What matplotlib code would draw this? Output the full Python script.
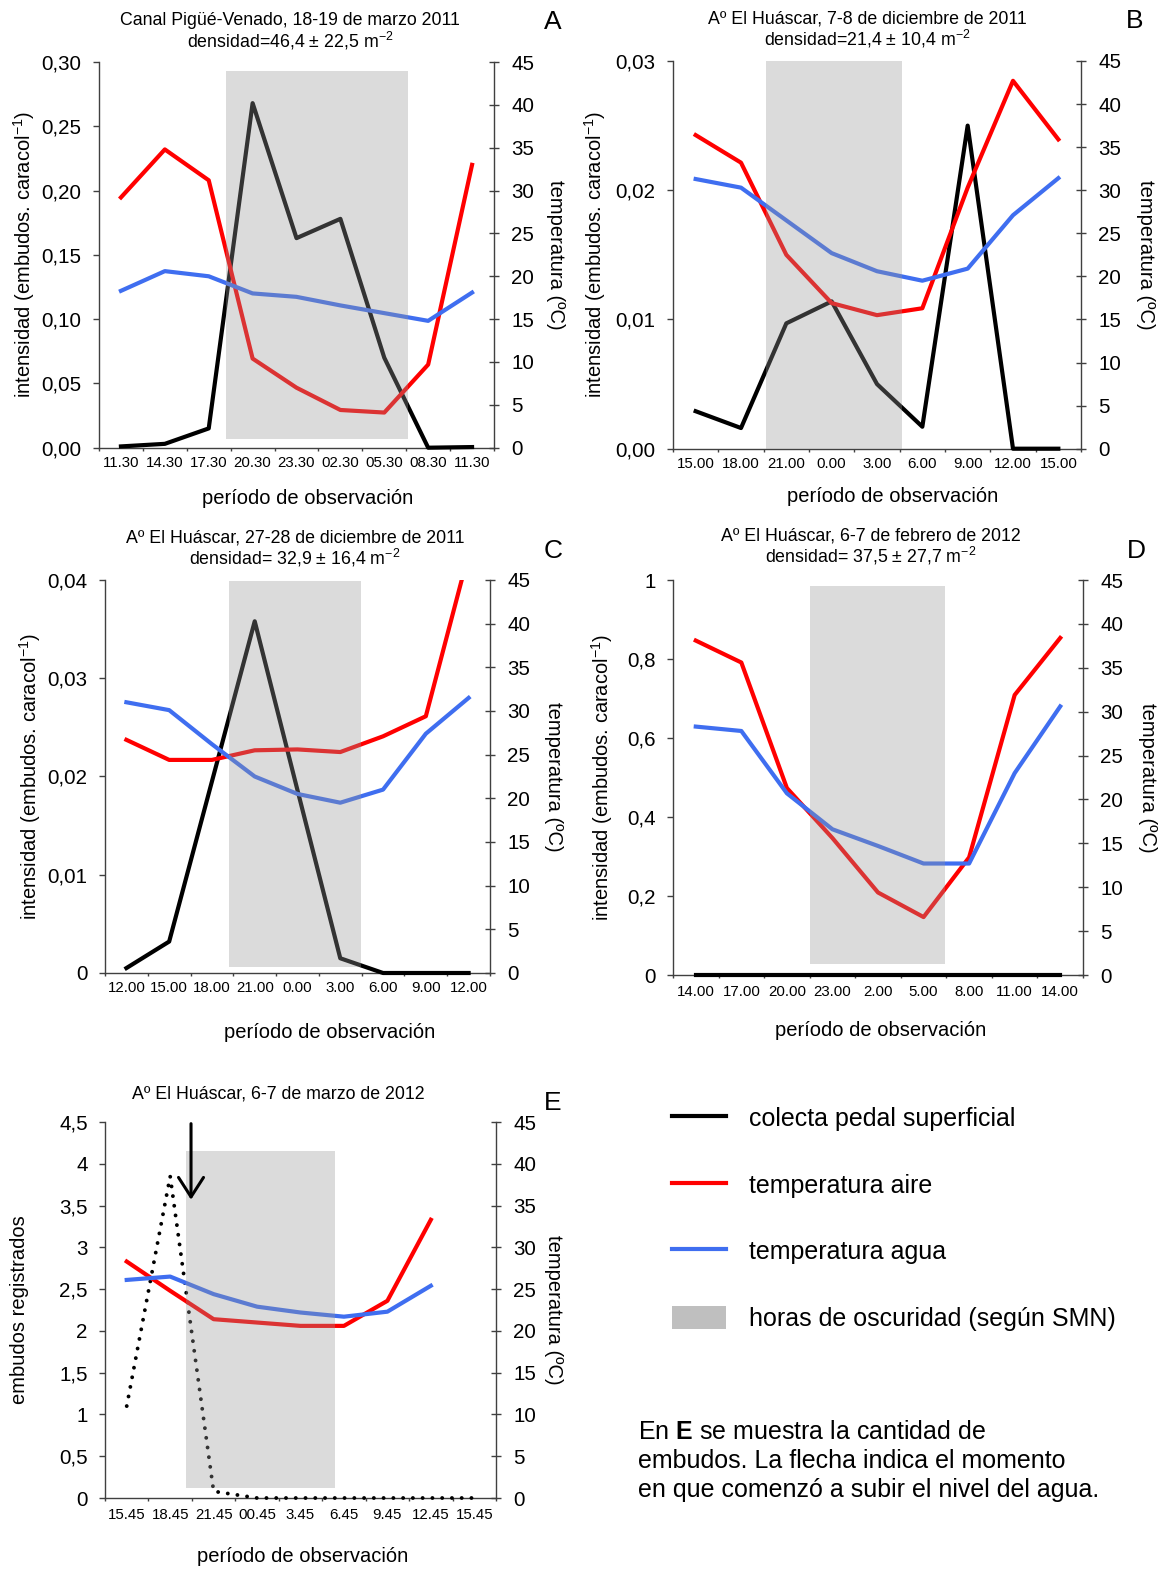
import numpy as np
import matplotlib

matplotlib.use("Agg")
import matplotlib.pyplot as plt
from matplotlib.lines import Line2D
from matplotlib.patches import Patch

plt.rcParams["font.family"] = ["Liberation Sans", "DejaVu Sans"]
plt.rcParams["mathtext.fontset"] = "custom"
plt.rcParams["mathtext.rm"] = "Liberation Sans"
plt.rcParams["mathtext.bf"] = "Liberation Sans:bold"
plt.rcParams["mathtext.it"] = "Liberation Sans:italic"

FIG_W, FIG_H = 1166, 1573

RED = "#FF0000"
BLUE = "#3F6EF0"
BLACK = "#000000"
SHADE = "#979797"
SHADE_ALPHA = 0.34
AXIS_COLOR = "#404040"

TEMP_TICKS = [0, 5, 10, 15, 20, 25, 30, 35, 40, 45]
TEMP_LABEL = "temperatura (ºC)"
INT_LABEL = "intensidad (embudos. caracol$^{-1}$)"
X_LABEL = "período de observación"

# A: Canal Pigüé-Venado, marzo 2011
A_TIMES = ["11.30", "14.30", "17.30", "20.30", "23.30", "02.30", "05.30", "08.30", "11.30"]
A_PEDAL = [0.001, 0.003, 0.015, 0.268, 0.163, 0.178, 0.070, 0.0, 0.0005]
A_AIR = [29.2, 34.8, 31.2, 10.4, 7.0, 4.4, 4.1, 9.7, 33.0]
A_WATER = [18.3, 20.6, 20.0, 18.0, 17.6, 16.6, 15.7, 14.8, 18.1]
A_YTICKS = [0, 0.05, 0.10, 0.15, 0.20, 0.25, 0.30]
A_YTICKLABELS = ["0,00", "0,05", "0,10", "0,15", "0,20", "0,25", "0,30"]

# B: Aº El Huáscar, 7-8 diciembre 2011
B_TIMES = ["15.00", "18.00", "21.00", "0.00", "3.00", "6.00", "9.00", "12.00", "15.00"]
B_PEDAL = [0.0029, 0.0016, 0.0097, 0.0114, 0.0050, 0.0017, 0.0250, 0.0, 0.0]
B_AIR = [36.4, 33.2, 22.5, 16.9, 15.5, 16.3, 30.3, 42.7, 35.9]
B_WATER = [31.3, 30.3, 26.5, 22.7, 20.6, 19.5, 20.9, 27.1, 31.4]
B_YTICKS = [0, 0.01, 0.02, 0.03]
B_YTICKLABELS = ["0,00", "0,01", "0,02", "0,03"]

# C: Aº El Huáscar, 27-28 diciembre 2011
C_TIMES = ["12.00", "15.00", "18.00", "21.00", "0.00", "3.00", "6.00", "9.00", "12.00"]
C_PEDAL = [0.0005, 0.0032, 0.0195, 0.0358, 0.0186, 0.0015, 0.0, 0.0, 0.0]
C_AIR = [26.7, 24.4, 24.4, 25.5, 25.6, 25.3, 27.1, 29.4, 48.0]
C_WATER = [31.0, 30.1, 26.2, 22.5, 20.5, 19.5, 21.0, 27.4, 31.5]
C_YTICKS = [0, 0.01, 0.02, 0.03, 0.04]
C_YTICKLABELS = ["0", "0,01", "0,02", "0,03", "0,04"]

# D: Aº El Huáscar, 6-7 febrero 2012
D_TIMES = ["14.00", "17.00", "20.00", "23.00", "2.00", "5.00", "8.00", "11.00", "14.00"]
D_PEDAL = [0, 0, 0, 0, 0, 0, 0, 0, 0]
D_AIR = [38.1, 35.6, 21.3, 15.6, 9.4, 6.6, 13.4, 31.9, 38.4]
D_WATER = [28.3, 27.8, 20.7, 16.6, 14.7, 12.7, 12.7, 23.0, 30.6]
D_YTICKS = [0, 0.2, 0.4, 0.6, 0.8, 1.0]
D_YTICKLABELS = ["0", "0,2", "0,4", "0,6", "0,8", "1"]

# E: Aº El Huáscar, 6-7 marzo 2012 (embudos registrados)
E_TIMES = ["15.45", "18.45", "21.45", "00.45", "3.45", "6.45", "9.45", "12.45", "15.45"]
E_FUNNELS = [1.1, 3.85, 0.08, 0.0, 0.0, 0.0, 0.0, 0.0, 0.0]
E_AIR = [28.3, 24.8, 21.4, 21.0, 20.6, 20.6, 23.6, 33.3]
E_WATER = [26.1, 26.5, 24.4, 22.9, 22.2, 21.7, 22.3, 25.4]
E_YTICKS = [0, 0.5, 1, 1.5, 2, 2.5, 3, 3.5, 4, 4.5]
E_YTICKLABELS = ["0", "0,5", "1", "1,5", "2", "2,5", "3", "3,5", "4", "4,5"]
E_ARROW_X = 1.48
E_ARROW_FROM = 4.48
E_ARROW_TO = 3.57

LEGEND_LABELS = [
    "colecta pedal superficial",
    "temperatura aire",
    "temperatura agua",
    "horas de oscuridad (según SMN)",
]
NOTE_TEXT = (
    "En $\\mathbf{E}$ se muestra la cantidad de\n"
    "embudos. La flecha indica el momento\n"
    "en que comenzó a subir el nivel del agua."
)

PANELS = [
    {
        "letter": "A",
        "title": "Canal Pigüé-Venado, 18-19 de marzo 2011\ndensidad=46,4 ± 22,5 m$^{-2}$",
        "times": A_TIMES, "pedal": A_PEDAL, "air": A_AIR, "water": A_WATER,
        "yticks": A_YTICKS, "yticklabels": A_YTICKLABELS, "ylabel": INT_LABEL,
        "box": (99, 62, 494, 447.7), "shade": (2.39, 6.53, 0.0225, 0.976),
        "title_xy": (290, 32), "letter_xy": (553, 22),
        "ylabel_x": 24, "ylabel2_x": 555, "xlabel_xy": (308, 499), "xpad": 6.0,
    },
    {
        "letter": "B",
        "title": "Aº El Huáscar, 7-8 de diciembre de 2011\ndensidad=21,4 ± 10,4 m$^{-2}$",
        "times": B_TIMES, "pedal": B_PEDAL, "air": B_AIR, "water": B_WATER,
        "yticks": B_YTICKS, "yticklabels": B_YTICKLABELS, "ylabel": INT_LABEL,
        "box": (673, 61, 1081, 448.7), "shade": (1.55, 4.55, 0.0, 1.0),
        "title_xy": (867, 30), "letter_xy": (1135, 21),
        "ylabel_x": 595, "ylabel2_x": 1146, "xlabel_xy": (893, 496), "xpad": 6.0,
    },
    {
        "letter": "C",
        "title": "Aº El Huáscar, 27-28 de diciembre de 2011\ndensidad= 32,9 ± 16,4 m$^{-2}$",
        "times": C_TIMES, "pedal": C_PEDAL, "air": C_AIR, "water": C_WATER,
        "yticks": C_YTICKS, "yticklabels": C_YTICKLABELS, "ylabel": INT_LABEL,
        "box": (105, 580, 490, 973), "shade": (2.39, 5.48, 0.0155, 0.9965),
        "title_xy": (295, 549), "letter_xy": (553, 551),
        "ylabel_x": 30, "ylabel2_x": 553, "xlabel_xy": (330, 1033), "xpad": 6.0,
    },
    {
        "letter": "D",
        "title": "Aº El Huáscar, 6-7 de febrero de 2012\ndensidad= 37,5 ± 27,7 m$^{-2}$",
        "times": D_TIMES, "pedal": D_PEDAL, "air": D_AIR, "water": D_WATER,
        "yticks": D_YTICKS, "yticklabels": D_YTICKLABELS, "ylabel": INT_LABEL,
        "box": (673, 580, 1083, 975), "shade": (2.50, 5.47, 0.027, 0.984),
        "title_xy": (871, 547), "letter_xy": (1136, 551),
        "ylabel_x": 602, "ylabel2_x": 1147, "xlabel_xy": (881, 1031), "xpad": 7.0,
    },
    {
        "letter": "E",
        "title": "Aº El Huáscar, 6-7 de marzo de 2012",
        "times": E_TIMES, "pedal": E_FUNNELS, "air": E_AIR, "water": E_WATER,
        "yticks": E_YTICKS, "yticklabels": E_YTICKLABELS, "ylabel": "embudos registrados",
        "box": (105, 1122, 496, 1498), "shade": (1.37, 4.79, 0.026, 0.924),
        "title_xy": (278, 1094), "letter_xy": (553, 1103),
        "ylabel_x": 20, "ylabel2_x": 553, "xlabel_xy": (303, 1556), "xpad": 7.5,
        "dotted": True,
    },
]


def fig_xy(x_px, y_px):
    return x_px / FIG_W, 1 - y_px / FIG_H


def draw_panel(fig, panel):
    left, top, right, bottom = panel["box"]
    x0, y0 = fig_xy(left, bottom)
    ax = fig.add_axes([x0, y0, (right - left) / FIG_W, (bottom - top) / FIG_H])
    ax2 = ax.twinx()

    n = len(panel["times"])
    x = np.arange(n)
    pedal = panel["pedal"]
    if panel.get("dotted"):
        ax.plot(x[:len(pedal)], pedal, color=BLACK, lw=2.8, ls=(0, (0.01, 2.5)),
                dash_capstyle="round", clip_on=False, zorder=3)
    else:
        ax.plot(x[:len(pedal)], pedal, color=BLACK, lw=3, clip_on=False, zorder=3)
    ax2.plot(x[:len(panel["air"])], panel["air"], color=RED, lw=3, zorder=2)
    ax2.plot(x[:len(panel["water"])], panel["water"], color=BLUE, lw=3, zorder=2)

    s0, s1, sy0, sy1 = panel["shade"]
    ax2.axvspan(s0, s1, ymin=sy0, ymax=sy1, color=SHADE, alpha=SHADE_ALPHA, lw=0, zorder=5)

    ax.set_xlim(-0.5, n - 0.5)
    ax.set_ylim(panel["yticks"][0], panel["yticks"][-1])
    ax2.set_ylim(0, 45)

    ax.set_xticks(x)
    ax.set_xticklabels(panel["times"], fontsize=10.8)
    ax.tick_params(axis="x", which="major", length=0, pad=panel["xpad"])
    ax.set_xticks(np.arange(-0.5, n, 1), minor=True)
    ax.tick_params(axis="x", which="minor", length=2.5, width=1, color=AXIS_COLOR, direction="out")

    ax.set_yticks(panel["yticks"])
    ax.set_yticklabels(panel["yticklabels"], fontsize=14.8)
    ax.tick_params(axis="y", direction="out", length=4, width=1, color=AXIS_COLOR, pad=8.5)

    ax2.set_yticks(TEMP_TICKS)
    ax2.set_yticklabels([str(t) for t in TEMP_TICKS], fontsize=14.8)
    ax2.tick_params(axis="y", direction="inout", length=7, width=1, color=AXIS_COLOR, pad=9)

    for name in ["top", "right"]:
        ax.spines[name].set_visible(False)
    for name in ["top", "left", "bottom"]:
        ax2.spines[name].set_visible(False)
    for spine in [ax.spines["left"], ax.spines["bottom"], ax2.spines["right"]]:
        spine.set_color(AXIS_COLOR)
        spine.set_linewidth(1)

    mid_y = (top + bottom) / 2
    ax.set_ylabel(panel["ylabel"], fontsize=14.5, va="center")
    ax.yaxis.set_label_coords(*fig_xy(panel["ylabel_x"], mid_y), transform=fig.transFigure)
    ax2.set_ylabel(TEMP_LABEL, fontsize=14.5, rotation=270, va="center")
    ax2.yaxis.set_label_coords(*fig_xy(panel["ylabel2_x"], mid_y), transform=fig.transFigure)
    ax.set_xlabel(X_LABEL, fontsize=14.5, va="center")
    ax.xaxis.set_label_coords(*fig_xy(*panel["xlabel_xy"]), transform=fig.transFigure)

    fig.text(*fig_xy(*panel["title_xy"]), panel["title"], fontsize=12.75,
             ha="center", va="center", linespacing=1.0)
    fig.text(*fig_xy(*panel["letter_xy"]), panel["letter"], fontsize=19,
             ha="center", va="center")

    if panel["letter"] == "E":
        ax2.annotate(
            "", xy=(E_ARROW_X, E_ARROW_TO), xycoords=ax.transData,
            xytext=(E_ARROW_X, E_ARROW_FROM), textcoords=ax.transData,
            arrowprops=dict(arrowstyle="->,head_length=0.7,head_width=0.45",
                            lw=2.2, color=BLACK, mutation_scale=20,
                            shrinkA=0, shrinkB=0),
            zorder=6,
        )
    return ax, ax2


def main():
    fig = plt.figure(figsize=(FIG_W / 100, FIG_H / 100), dpi=100)

    for panel in PANELS:
        draw_panel(fig, panel)

    handles = [
        Line2D([], [], color=BLACK, lw=3),
        Line2D([], [], color=RED, lw=3),
        Line2D([], [], color=BLUE, lw=3),
        Patch(facecolor="#BFBFBF", edgecolor="none"),
    ]
    fig.legend(
        handles, LEGEND_LABELS, loc="upper left",
        bbox_to_anchor=fig_xy(672, 1106), frameon=False, fontsize=18,
        handlelength=2.16, handleheight=1.0, handletextpad=0.92,
        labelspacing=1.68, borderpad=0, borderaxespad=0,
    )

    fig.text(*fig_xy(638, 1461), NOTE_TEXT, fontsize=18, ha="left", va="center",
             linespacing=1.27)

    fig.savefig("out.png", dpi=100)
    plt.close(fig)


if __name__ == "__main__":
    main()
